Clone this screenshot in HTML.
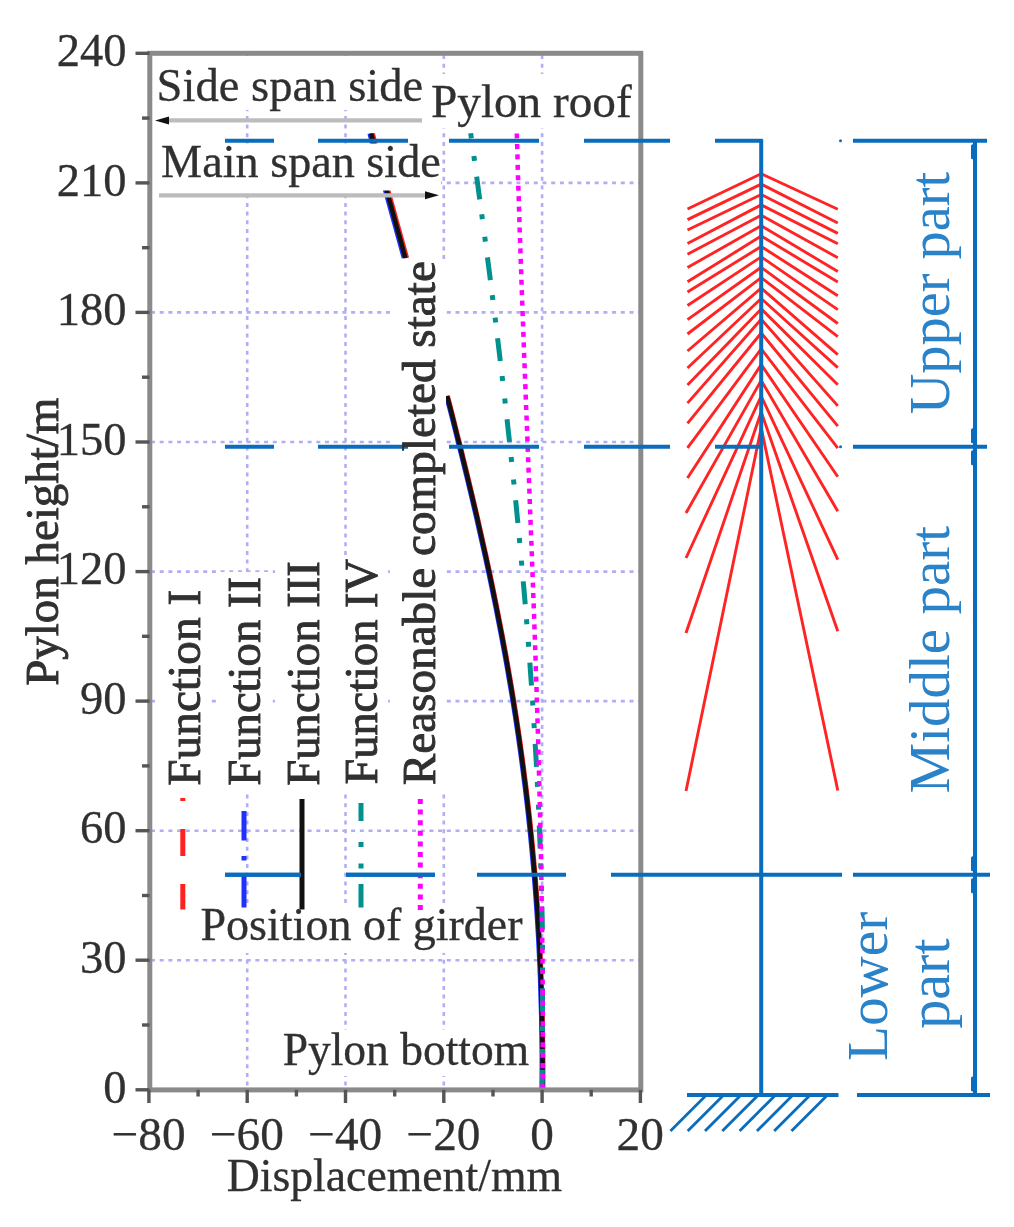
<!DOCTYPE html>
<html><head><meta charset="utf-8"><title>Pylon displacement</title>
<style>html,body{margin:0;padding:0;background:#fff;}body{width:1014px;height:1227px;overflow:hidden;font-family:"Liberation Serif", serif;}svg{display:block;filter:blur(0.45px);}</style>
</head><body>
<svg width="1014" height="1227" viewBox="0 0 1014 1227"><g stroke="#b2aef4" stroke-width="2.6" stroke-dasharray="4 4.7" fill="none"><line x1="247.2" y1="55" x2="247.2" y2="1088"/><line x1="345.5" y1="55" x2="345.5" y2="1088"/><line x1="443.8" y1="55" x2="443.8" y2="1088"/><line x1="542.1" y1="55" x2="542.1" y2="1088"/><line x1="151" y1="960.2" x2="639" y2="960.2"/><line x1="151" y1="830.7" x2="639" y2="830.7"/><line x1="151" y1="701.1" x2="639" y2="701.1"/><line x1="151" y1="571.6" x2="639" y2="571.6"/><line x1="151" y1="442.0" x2="639" y2="442.0"/><line x1="151" y1="312.4" x2="639" y2="312.4"/><line x1="151" y1="182.9" x2="639" y2="182.9"/></g>
<g fill="none" stroke-width="4.5"><path d="M371.2,133.5 C372.3,137.9 375.4,150.6 378.0,160.0 C380.6,169.4 383.6,179.3 386.6,190.0 C389.6,200.7 392.9,212.7 396.0,224.0 C399.1,235.3 403.8,252.3 405.4,258.0" stroke="#2030ff" transform="translate(-1.5,0)"/><path d="M542.6,1089.5 C542.6,1087.2 542.6,1081.6 542.6,1076.0 C542.6,1070.4 542.6,1062.7 542.6,1056.0 C542.5,1049.3 542.4,1042.7 542.3,1036.0 C542.2,1029.3 542.1,1022.7 542.0,1016.0 C541.8,1009.3 541.6,1002.7 541.4,996.0 C541.2,989.3 541.0,982.7 540.8,976.0 C540.5,969.3 540.2,962.7 539.9,956.0 C539.6,949.3 539.3,942.7 538.9,936.0 C538.5,929.3 538.1,922.7 537.7,916.0 C537.3,909.3 536.8,902.7 536.3,896.0 C535.8,889.3 535.3,882.7 534.8,876.0 C534.2,869.3 533.6,862.7 533.0,856.0 C532.4,849.3 531.8,842.7 531.1,836.0 C530.4,829.3 529.7,822.7 529.0,816.0 C528.3,809.3 527.5,802.7 526.7,796.0 C525.9,789.3 525.1,782.7 524.2,776.0 C523.4,769.3 522.5,762.7 521.6,756.0 C520.7,749.3 519.7,742.7 518.8,736.0 C517.8,729.3 516.8,722.7 515.8,716.0 C514.7,709.3 513.7,702.7 512.6,696.0 C511.5,689.3 510.4,682.7 509.2,676.0 C508.1,669.3 506.9,662.7 505.7,656.0 C504.5,649.3 503.2,642.7 502.0,636.0 C500.7,629.3 499.4,622.7 498.1,616.0 C496.8,609.3 495.5,602.7 494.1,596.0 C492.8,589.3 491.4,582.7 490.0,576.0 C488.6,569.3 487.1,562.7 485.7,556.0 C484.2,549.3 482.7,542.7 481.2,536.0 C479.7,529.3 478.2,522.7 476.7,516.0 C475.1,509.3 473.6,502.7 472.0,496.0 C470.4,489.3 468.8,482.7 467.2,476.0 C465.6,469.3 463.9,462.7 462.3,456.0 C460.7,449.3 459.0,442.7 457.3,436.0 C455.6,429.3 454.0,422.7 452.3,416.0 C450.6,409.3 448.0,399.3 447.1,396.0" stroke="#2030ff" transform="translate(-0.8,0)"/><path d="M371.2,133.5 C372.3,137.9 375.4,150.6 378.0,160.0 C380.6,169.4 383.6,179.3 386.6,190.0 C389.6,200.7 392.9,212.7 396.0,224.0 C399.1,235.3 403.8,252.3 405.4,258.0" stroke="#ff2020" transform="translate(1.5,0)"/><path d="M542.6,1089.5 C542.6,1087.2 542.6,1081.6 542.6,1076.0 C542.6,1070.4 542.6,1062.7 542.6,1056.0 C542.5,1049.3 542.4,1042.7 542.3,1036.0 C542.2,1029.3 542.1,1022.7 542.0,1016.0 C541.8,1009.3 541.6,1002.7 541.4,996.0 C541.2,989.3 541.0,982.7 540.8,976.0 C540.5,969.3 540.2,962.7 539.9,956.0 C539.6,949.3 539.3,942.7 538.9,936.0 C538.5,929.3 538.1,922.7 537.7,916.0 C537.3,909.3 536.8,902.7 536.3,896.0 C535.8,889.3 535.3,882.7 534.8,876.0 C534.2,869.3 533.6,862.7 533.0,856.0 C532.4,849.3 531.8,842.7 531.1,836.0 C530.4,829.3 529.7,822.7 529.0,816.0 C528.3,809.3 527.5,802.7 526.7,796.0 C525.9,789.3 525.1,782.7 524.2,776.0 C523.4,769.3 522.5,762.7 521.6,756.0 C520.7,749.3 519.7,742.7 518.8,736.0 C517.8,729.3 516.8,722.7 515.8,716.0 C514.7,709.3 513.7,702.7 512.6,696.0 C511.5,689.3 510.4,682.7 509.2,676.0 C508.1,669.3 506.9,662.7 505.7,656.0 C504.5,649.3 503.2,642.7 502.0,636.0 C500.7,629.3 499.4,622.7 498.1,616.0 C496.8,609.3 495.5,602.7 494.1,596.0 C492.8,589.3 491.4,582.7 490.0,576.0 C488.6,569.3 487.1,562.7 485.7,556.0 C484.2,549.3 482.7,542.7 481.2,536.0 C479.7,529.3 478.2,522.7 476.7,516.0 C475.1,509.3 473.6,502.7 472.0,496.0 C470.4,489.3 468.8,482.7 467.2,476.0 C465.6,469.3 463.9,462.7 462.3,456.0 C460.7,449.3 459.0,442.7 457.3,436.0 C455.6,429.3 454.0,422.7 452.3,416.0 C450.6,409.3 448.0,399.3 447.1,396.0" stroke="#ff2020" transform="translate(0.6,0)"/><path d="M371.2,133.5 C372.3,137.9 375.4,150.6 378.0,160.0 C380.6,169.4 383.6,179.3 386.6,190.0 C389.6,200.7 392.9,212.7 396.0,224.0 C399.1,235.3 403.8,252.3 405.4,258.0" stroke="#111"/><path d="M542.6,1089.5 C542.6,1087.2 542.6,1081.6 542.6,1076.0 C542.6,1070.4 542.6,1062.7 542.6,1056.0 C542.5,1049.3 542.4,1042.7 542.3,1036.0 C542.2,1029.3 542.1,1022.7 542.0,1016.0 C541.8,1009.3 541.6,1002.7 541.4,996.0 C541.2,989.3 541.0,982.7 540.8,976.0 C540.5,969.3 540.2,962.7 539.9,956.0 C539.6,949.3 539.3,942.7 538.9,936.0 C538.5,929.3 538.1,922.7 537.7,916.0 C537.3,909.3 536.8,902.7 536.3,896.0 C535.8,889.3 535.3,882.7 534.8,876.0 C534.2,869.3 533.6,862.7 533.0,856.0 C532.4,849.3 531.8,842.7 531.1,836.0 C530.4,829.3 529.7,822.7 529.0,816.0 C528.3,809.3 527.5,802.7 526.7,796.0 C525.9,789.3 525.1,782.7 524.2,776.0 C523.4,769.3 522.5,762.7 521.6,756.0 C520.7,749.3 519.7,742.7 518.8,736.0 C517.8,729.3 516.8,722.7 515.8,716.0 C514.7,709.3 513.7,702.7 512.6,696.0 C511.5,689.3 510.4,682.7 509.2,676.0 C508.1,669.3 506.9,662.7 505.7,656.0 C504.5,649.3 503.2,642.7 502.0,636.0 C500.7,629.3 499.4,622.7 498.1,616.0 C496.8,609.3 495.5,602.7 494.1,596.0 C492.8,589.3 491.4,582.7 490.0,576.0 C488.6,569.3 487.1,562.7 485.7,556.0 C484.2,549.3 482.7,542.7 481.2,536.0 C479.7,529.3 478.2,522.7 476.7,516.0 C475.1,509.3 473.6,502.7 472.0,496.0 C470.4,489.3 468.8,482.7 467.2,476.0 C465.6,469.3 463.9,462.7 462.3,456.0 C460.7,449.3 459.0,442.7 457.3,436.0 C455.6,429.3 454.0,422.7 452.3,416.0 C450.6,409.3 448.0,399.3 447.1,396.0" stroke="#111"/></g>
<path d="M470.4,131.0 C470.8,134.3 472.2,144.3 473.2,151.0 C474.1,157.7 475.0,164.3 475.9,171.0 C476.8,177.7 477.7,184.3 478.6,191.0 C479.5,197.7 480.4,204.3 481.3,211.0 C482.2,217.7 483.1,224.3 484.0,231.0 C484.9,237.7 485.7,244.3 486.6,251.0 C487.5,257.7 488.3,264.3 489.2,271.0 C490.1,277.7 490.9,284.3 491.7,291.0 C492.6,297.7 493.4,304.3 494.3,311.0 C495.1,317.7 495.9,324.3 496.7,331.0 C497.5,337.7 498.3,344.3 499.1,351.0 C499.9,357.7 500.7,364.3 501.5,371.0 C502.3,377.7 503.1,384.3 503.8,391.0 C504.6,397.7 505.4,404.3 506.1,411.0 C506.9,417.7 507.6,424.3 508.3,431.0 C509.1,437.7 509.8,444.3 510.5,451.0 C511.2,457.7 511.9,464.3 512.6,471.0 C513.3,477.7 514.0,484.3 514.7,491.0 C515.4,497.7 516.0,504.3 516.7,511.0 C517.4,517.7 518.0,524.3 518.6,531.0 C519.3,537.7 519.9,544.3 520.5,551.0 C521.1,557.7 521.7,564.3 522.3,571.0 C522.9,577.7 523.5,584.3 524.1,591.0 C524.7,597.7 525.2,604.3 525.8,611.0 C526.3,617.7 526.9,624.3 527.4,631.0 C527.9,637.7 528.5,644.3 529.0,651.0 C529.5,657.7 530.0,664.3 530.4,671.0 C530.9,677.7 531.4,684.3 531.9,691.0 C532.3,697.7 532.8,704.3 533.2,711.0 C533.6,717.7 534.0,724.3 534.4,731.0 C534.8,737.7 535.2,744.3 535.6,751.0 C536.0,757.7 536.4,764.3 536.7,771.0 C537.1,777.7 537.4,784.3 537.7,791.0 C538.1,797.7 538.4,804.3 538.7,811.0 C539.0,817.7 539.2,824.3 539.5,831.0 C539.8,837.7 540.0,844.3 540.3,851.0 C540.5,857.7 540.7,864.3 540.9,871.0 C541.2,877.7 541.3,884.3 541.5,891.0 C541.7,897.7 541.9,904.3 542.0,911.0 C542.2,917.7 542.3,924.3 542.4,931.0 C542.5,937.7 542.5,944.3 542.5,951.0 C542.5,957.7 542.5,964.3 542.5,971.0 C542.5,977.7 542.5,984.3 542.5,991.0 C542.5,997.7 542.5,1004.3 542.5,1011.0 C542.5,1017.7 542.5,1024.3 542.5,1031.0 C542.5,1037.7 542.5,1044.3 542.5,1051.0 C542.5,1057.7 542.5,1064.6 542.4,1071.0 C542.3,1077.4 542.1,1086.4 542.0,1089.5" fill="none" stroke="#00918e" stroke-width="5" stroke-dasharray="5 17.7 5 15.8 23 15" stroke-dashoffset="-2.5"/>
<path d="M516.8,133.5 C516.9,136.8 517.2,146.8 517.4,153.5 C517.6,160.2 517.7,166.8 517.9,173.5 C518.1,180.2 518.3,186.8 518.6,193.5 C518.8,200.2 519.0,206.8 519.2,213.5 C519.4,220.2 519.6,226.8 519.8,233.5 C520.1,240.2 520.3,246.8 520.5,253.5 C520.7,260.2 521.0,266.8 521.2,273.5 C521.4,280.2 521.7,286.8 521.9,293.5 C522.1,300.2 522.4,306.8 522.6,313.5 C522.9,320.2 523.1,326.8 523.4,333.5 C523.6,340.2 523.9,346.8 524.1,353.5 C524.4,360.2 524.6,366.8 524.9,373.5 C525.1,380.2 525.4,386.8 525.6,393.5 C525.9,400.2 526.1,406.8 526.4,413.5 C526.7,420.2 526.9,426.8 527.2,433.5 C527.4,440.2 527.7,446.8 527.9,453.5 C528.2,460.2 528.5,466.8 528.7,473.5 C529.0,480.2 529.2,486.8 529.5,493.5 C529.7,500.2 530.0,506.8 530.2,513.5 C530.5,520.2 530.8,526.8 531.0,533.5 C531.3,540.2 531.5,546.8 531.8,553.5 C532.0,560.2 532.3,566.8 532.5,573.5 C532.8,580.2 533.0,586.8 533.2,593.5 C533.5,600.2 533.7,606.8 534.0,613.5 C534.2,620.2 534.4,626.8 534.7,633.5 C534.9,640.2 535.1,646.8 535.4,653.5 C535.6,660.2 535.8,666.8 536.0,673.5 C536.2,680.2 536.5,686.8 536.7,693.5 C536.9,700.2 537.1,706.8 537.3,713.5 C537.5,720.2 537.7,726.8 537.9,733.5 C538.1,740.2 538.3,746.8 538.5,753.5 C538.7,760.2 538.8,766.8 539.0,773.5 C539.2,780.2 539.4,786.8 539.5,793.5 C539.7,800.2 539.9,806.8 540.0,813.5 C540.2,820.2 540.3,826.8 540.5,833.5 C540.6,840.2 540.8,846.8 540.9,853.5 C541.0,860.2 541.2,866.8 541.3,873.5 C541.4,880.2 541.5,886.8 541.6,893.5 C541.7,900.2 541.8,906.8 541.9,913.5 C542.0,920.2 542.1,926.8 542.2,933.5 C542.3,940.2 542.3,946.8 542.4,953.5 C542.5,960.2 542.5,966.8 542.6,973.5 C542.6,980.2 542.7,986.8 542.7,993.5 C542.7,1000.2 542.7,1006.8 542.8,1013.5 C542.8,1020.2 542.8,1026.8 542.8,1033.5 C542.8,1040.2 542.8,1046.8 542.7,1053.5 C542.7,1060.2 542.7,1067.5 542.7,1073.5 C542.6,1079.5 542.6,1086.8 542.5,1089.5" fill="none" stroke="#ff00ff" stroke-width="4.5" stroke-dasharray="5 5.45"/>
<g fill="#fff"><rect x="151" y="56" width="277" height="54"/><rect x="428" y="74" width="208" height="54"/><rect x="151" y="143.5" width="290" height="47"/><rect x="394" y="259" width="52" height="535"/><rect x="157" y="586" width="52" height="208"/><rect x="216" y="572" width="53" height="222"/><rect x="275" y="556" width="55" height="238"/><rect x="333" y="555" width="55" height="239"/><rect x="198" y="905" width="328" height="48"/><rect x="280" y="1030" width="254" height="46"/></g>
<rect x="149.8" y="53.3" width="490.99999999999994" height="1036.6000000000001" fill="none" stroke="#8a8a8a" stroke-width="5"/>
<g stroke="#555555" stroke-width="3.4"><line x1="135.5" y1="1089.8" x2="149.5" y2="1089.8"/><line x1="135.5" y1="960.2" x2="149.5" y2="960.2"/><line x1="135.5" y1="830.7" x2="149.5" y2="830.7"/><line x1="135.5" y1="701.1" x2="149.5" y2="701.1"/><line x1="135.5" y1="571.6" x2="149.5" y2="571.6"/><line x1="135.5" y1="442.0" x2="149.5" y2="442.0"/><line x1="135.5" y1="312.4" x2="149.5" y2="312.4"/><line x1="135.5" y1="182.9" x2="149.5" y2="182.9"/><line x1="135.5" y1="53.3" x2="149.5" y2="53.3"/><line x1="142" y1="1025.0" x2="149.5" y2="1025.0"/><line x1="142" y1="895.5" x2="149.5" y2="895.5"/><line x1="142" y1="765.9" x2="149.5" y2="765.9"/><line x1="142" y1="636.3" x2="149.5" y2="636.3"/><line x1="142" y1="506.8" x2="149.5" y2="506.8"/><line x1="142" y1="377.2" x2="149.5" y2="377.2"/><line x1="142" y1="247.7" x2="149.5" y2="247.7"/><line x1="142" y1="118.1" x2="149.5" y2="118.1"/><line x1="148.9" y1="1089.8" x2="148.9" y2="1103"/><line x1="247.2" y1="1089.8" x2="247.2" y2="1103"/><line x1="345.5" y1="1089.8" x2="345.5" y2="1103"/><line x1="443.8" y1="1089.8" x2="443.8" y2="1103"/><line x1="542.1" y1="1089.8" x2="542.1" y2="1103"/><line x1="640.4" y1="1089.8" x2="640.4" y2="1103"/><line x1="198.1" y1="1089.8" x2="198.1" y2="1096.5"/><line x1="296.4" y1="1089.8" x2="296.4" y2="1096.5"/><line x1="394.7" y1="1089.8" x2="394.7" y2="1096.5"/><line x1="493.0" y1="1089.8" x2="493.0" y2="1096.5"/><line x1="591.2" y1="1089.8" x2="591.2" y2="1096.5"/></g>
<g><line x1="166" y1="120.4" x2="422" y2="120.4" stroke="#bcbcbc" stroke-width="4.2"/><path d="M155,120.5 L169,116.5 L169,124.5 Z" fill="#111"/><line x1="159" y1="195.3" x2="428" y2="195.3" stroke="#bcbcbc" stroke-width="4.2"/><path d="M439,195.3 L425,191.3 L425,199.3 Z" fill="#111"/></g>
<path d="M687.5,209 L761.2,173.7 L837.8,209.2 M687.5,219.6 L761.2,184.1 L837.8,223 M687.5,230 L761.2,194.5 L837.8,233.4 M687.5,243.5 L761.2,204.9 L837.8,243.8 M687.5,254.3 L761.2,215.3 L837.8,257.7 M687.5,267.6 L761.2,225.7 L837.8,271.5 M687.5,281.8 L761.2,236.1 L837.8,282 M687.5,292 L761.2,246.5 L837.8,295.8 M687.5,305.5 L761.2,256.9 L837.8,309.6 M687.5,319.6 L761.2,267.3 L837.8,323.5 M687.5,334 L761.2,277.7 L837.8,336.6 M687.5,351 L761.2,288.1 L837.8,354.6 M687.5,368 L761.2,298.5 L837.8,367.6 M687.5,385.1 L761.2,308.9 L837.8,384.7 M687.5,403.1 L761.2,319.3 L837.8,405.9 M687.5,423.4 L761.2,333.0 L837.8,426.2 M687.5,447.9 L761.2,348.8 L837.8,448.2 M687.5,478 L761.2,364.6 L837.8,476.7 M686,513 L761.2,380.4 L837.8,511.3 M686,558 L761.2,396.2 L837.8,559.6 M686,633 L761.2,412.0 L837.8,631.3 M686,791 L761.2,427.8 L837.8,790.5" fill="none" stroke="#ff2424" stroke-width="2.9" stroke-linejoin="bevel"/>
<g stroke="#096cbc" stroke-width="4"><line x1="225" y1="140.8" x2="274" y2="140.8"/><line x1="318" y1="140.8" x2="408" y2="140.8"/><line x1="449" y1="140.8" x2="539" y2="140.8"/><line x1="584" y1="140.8" x2="670" y2="140.8"/><line x1="715" y1="140.8" x2="762.5" y2="140.8"/><line x1="853" y1="140.8" x2="987" y2="140.8"/><line x1="225" y1="446.8" x2="274" y2="446.8"/><line x1="318" y1="446.8" x2="408" y2="446.8"/><line x1="449" y1="446.8" x2="539" y2="446.8"/><line x1="584" y1="446.8" x2="670" y2="446.8"/><line x1="715" y1="446.8" x2="762.5" y2="446.8"/><line x1="853" y1="446.8" x2="987" y2="446.8"/><line x1="225" y1="874.8" x2="301" y2="874.8"/><line x1="346" y1="874.8" x2="435" y2="874.8"/><line x1="477" y1="874.8" x2="566" y2="874.8"/><line x1="611" y1="874.8" x2="842" y2="874.8"/><line x1="853" y1="874.8" x2="990" y2="874.8"/><line x1="687" y1="1095" x2="838.5" y2="1095"/><line x1="857" y1="1095" x2="990" y2="1095"/><line x1="761.2" y1="139.3" x2="761.2" y2="1095"/><line x1="975" y1="140.8" x2="975" y2="1095"/></g>
<g fill="#096cbc"><circle cx="840.5" cy="140.8" r="1.5"/><circle cx="840.5" cy="446.8" r="1.5"/></g>
<g stroke="#096cbc" stroke-width="3" stroke-linecap="round"><line x1="972.5" y1="145.8" x2="972.5" y2="157.8"/><line x1="972.5" y1="441.8" x2="972.5" y2="429.8"/><line x1="972.5" y1="451.8" x2="972.5" y2="463.8"/><line x1="972.5" y1="869.8" x2="972.5" y2="857.8"/><line x1="972.5" y1="879.8" x2="972.5" y2="891.8"/><line x1="972.5" y1="1090" x2="972.5" y2="1078"/></g>
<g stroke="#096cbc" stroke-width="2.8"><line x1="705.4" y1="1096" x2="670.4" y2="1131"/><line x1="722.7" y1="1096" x2="687.7" y2="1131"/><line x1="740.0" y1="1096" x2="705.0" y2="1131"/><line x1="757.3" y1="1096" x2="722.3" y2="1131"/><line x1="774.6" y1="1096" x2="739.6" y2="1131"/><line x1="791.9" y1="1096" x2="756.9" y2="1131"/><line x1="809.2" y1="1096" x2="774.2" y2="1131"/><line x1="826.5" y1="1096" x2="791.5" y2="1131"/></g>
<g fill="none" stroke-width="5"><line x1="182.8" y1="798" x2="182.8" y2="801" stroke="#ff2020"/><line x1="182.8" y1="829" x2="182.8" y2="856" stroke="#ff2020"/><line x1="182.8" y1="884" x2="182.8" y2="909.5" stroke="#ff2020"/><line x1="244" y1="811" x2="244" y2="840.5" stroke="#2030ff"/><line x1="244" y1="856" x2="244" y2="860.5" stroke="#2030ff"/><line x1="244" y1="876" x2="244" y2="907.5" stroke="#2030ff"/><line x1="302" y1="799" x2="302" y2="909.5" stroke="#111"/><line x1="361" y1="803" x2="361" y2="821" stroke="#00918e" stroke-width="5"/><line x1="361" y1="842" x2="361" y2="847" stroke="#00918e" stroke-width="5"/><line x1="361" y1="863.5" x2="361" y2="868.5" stroke="#00918e" stroke-width="5"/><line x1="361" y1="884" x2="361" y2="907.5" stroke="#00918e" stroke-width="5"/><line x1="420.3" y1="799" x2="420.3" y2="910" stroke="#ff00ff" stroke-dasharray="5 5.6"/></g>
<g stroke="#096cbc" stroke-width="4"><line x1="225" y1="874.8" x2="301" y2="874.8"/><line x1="346" y1="874.8" x2="435" y2="874.8"/></g>
<g font-family='"Liberation Serif", serif' paint-order="stroke"><text x="103.30" y="1102.60" font-size="46.50" fill="#303030" stroke="#303030" stroke-width="0.3">0</text><text x="80.05" y="973.04" font-size="46.50" fill="#303030" stroke="#303030" stroke-width="0.3">30</text><text x="80.05" y="843.48" font-size="46.50" fill="#303030" stroke="#303030" stroke-width="0.3">60</text><text x="80.05" y="713.92" font-size="46.50" fill="#303030" stroke="#303030" stroke-width="0.3">90</text><text x="56.80" y="584.36" font-size="46.50" fill="#303030" stroke="#303030" stroke-width="0.3">120</text><text x="56.80" y="454.80" font-size="46.50" fill="#303030" stroke="#303030" stroke-width="0.3">150</text><text x="56.80" y="325.24" font-size="46.50" fill="#303030" stroke="#303030" stroke-width="0.3">180</text><text x="56.80" y="195.68" font-size="46.50" fill="#303030" stroke="#303030" stroke-width="0.3">210</text><text x="56.80" y="66.12" font-size="46.50" fill="#303030" stroke="#303030" stroke-width="0.3">240</text><text x="111.65" y="1149.60" font-size="47.30" fill="#303030" stroke="#303030" stroke-width="0.3">−80</text><text x="209.95" y="1149.60" font-size="47.30" fill="#303030" stroke="#303030" stroke-width="0.3">−60</text><text x="308.25" y="1149.60" font-size="47.30" fill="#303030" stroke="#303030" stroke-width="0.3">−40</text><text x="406.55" y="1149.60" font-size="47.30" fill="#303030" stroke="#303030" stroke-width="0.3">−20</text><text x="530.29" y="1149.60" font-size="47.30" fill="#303030" stroke="#303030" stroke-width="0.3">0</text><text x="616.59" y="1149.60" font-size="47.30" fill="#303030" stroke="#303030" stroke-width="0.3">20</text><text x="226.65" y="1190.80" font-size="45.75" fill="#303030" stroke="#303030" stroke-width="0.3">Displacement/mm</text><text x="156.57" y="100.80" font-size="46.61" fill="#303030" stroke="#303030" stroke-width="0.3">Side span side</text><text x="161.12" y="177.20" font-size="46.20" fill="#303030" stroke="#303030" stroke-width="0.3">Main span side</text><text x="431.03" y="117.30" font-size="47.23" fill="#303030" stroke="#303030" stroke-width="0.3">Pylon roof</text><text x="200.53" y="940.00" font-size="46.03" fill="#303030" stroke="#303030" stroke-width="0.3">Position of girder</text><text x="282.65" y="1064.50" font-size="45.51" fill="#303030" stroke="#303030" stroke-width="0.3">Pylon bottom</text><text x="57.60" y="685.77" font-size="46.92" fill="#303030" stroke="#303030" stroke-width="0.9" transform="rotate(-90 57.60 685.77)">Pylon height/m</text><text x="435.50" y="785.27" font-size="47.19" fill="#303030" stroke="#303030" stroke-width="0.9" transform="rotate(-90 435.50 785.27)">Reasonable completed state</text><text x="200.00" y="785.77" font-size="47.37" fill="#303030" stroke="#303030" stroke-width="0.9" transform="rotate(-90 200.00 785.77)">Function I</text><text x="260.00" y="785.77" font-size="46.69" fill="#303030" stroke="#303030" stroke-width="0.9" transform="rotate(-90 260.00 785.77)">Function II</text><text x="319.50" y="785.77" font-size="46.78" fill="#303030" stroke="#303030" stroke-width="0.9" transform="rotate(-90 319.50 785.77)">Function III</text><text x="376.80" y="784.57" font-size="46.40" fill="#303030" stroke="#303030" stroke-width="0.9" transform="rotate(-90 376.80 784.57)">Function IV</text><text x="949.50" y="414.32" font-size="56.32" fill="#2a82c8" stroke="#2a82c8" stroke-width="0" transform="rotate(-90 949.50 414.32)">Upper part</text><text x="949.00" y="793.52" font-size="57.02" fill="#2a82c8" stroke="#2a82c8" stroke-width="0" transform="rotate(-90 949.00 793.52)">Middle part</text><text x="886.80" y="1061.03" font-size="57.22" fill="#2a82c8" stroke="#2a82c8" stroke-width="0" transform="rotate(-90 886.80 1061.03)">Lower</text><text x="949.00" y="1028.78" font-size="58.14" fill="#2a82c8" stroke="#2a82c8" stroke-width="0" transform="rotate(-90 949.00 1028.78)">part</text></g></svg>
</body></html>
